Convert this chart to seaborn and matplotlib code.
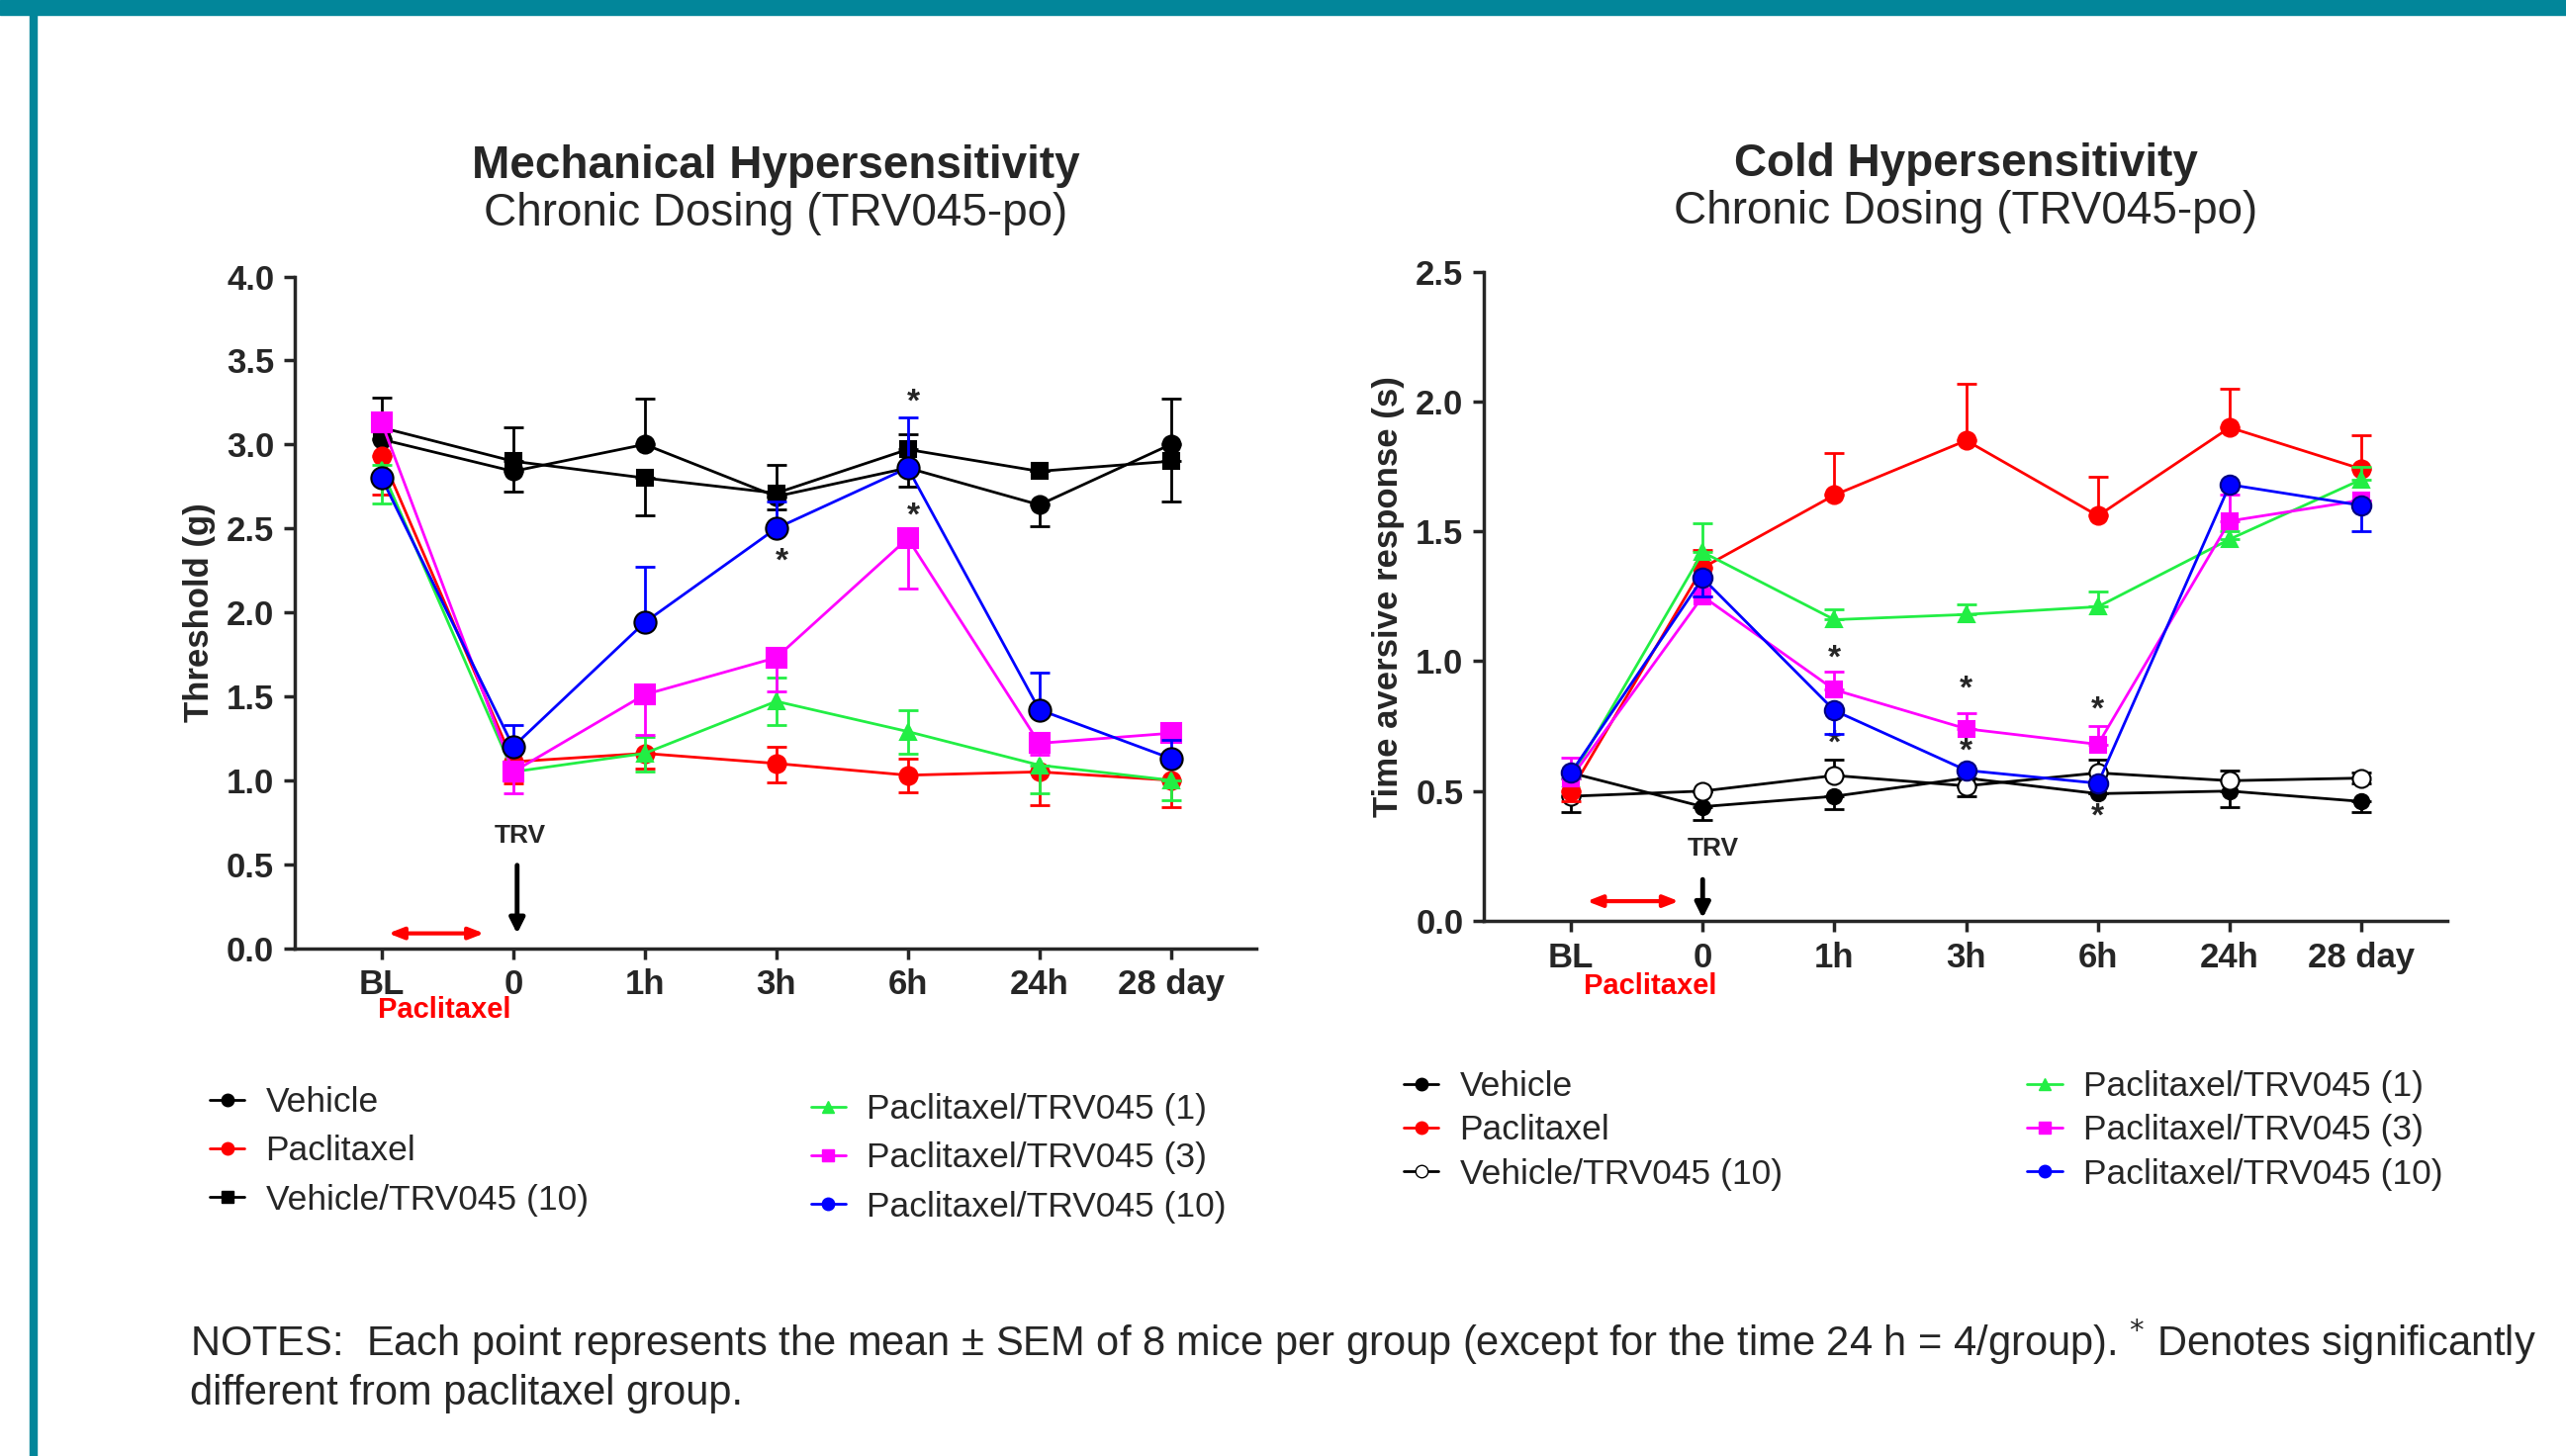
import numpy as np
import matplotlib
matplotlib.use("Agg")
import matplotlib.pyplot as plt
from matplotlib.lines import Line2D
from matplotlib.patches import Rectangle
import seaborn as sns

sns.set_style("ticks")
plt.rcParams['font.family'] = ['Liberation Sans', 'DejaVu Sans']

# ---------------- data ----------------
time_labels = ["BL", "0", "1h", "3h", "6h", "24h", "28 day"]

# Mechanical hypersensitivity (threshold, g)
mech_vehicle = [3.03, 2.84, 3.00, 2.69, 2.86, 2.64, 3.00]
mech_vehicle_up = [0.25, 0.00, 0.27, 0.00, 0.00, 0.00, 0.27]
mech_vehicle_dn = [0.00, 0.12, 0.00, 0.08, 0.11, 0.13, 0.00]
mech_pac = [2.93, 1.11, 1.16, 1.10, 1.03, 1.05, 1.00]
mech_pac_up = [0.00, 0.00, 0.00, 0.10, 0.10, 0.00, 0.00]
mech_pac_dn = [0.23, 0.13, 0.09, 0.11, 0.10, 0.20, 0.16]
mech_vehtrv = [3.10, 2.90, 2.80, 2.71, 2.97, 2.84, 2.90]
mech_vehtrv_up = [0.00, 0.20, 0.00, 0.17, 0.09, 0.00, 0.00]
mech_vehtrv_dn = [0.00, 0.00, 0.22, 0.00, 0.00, 0.00, 0.24]
mech_trv1 = [2.85, 1.05, 1.16, 1.47, 1.29, 1.09, 1.00]
mech_trv1_up = [0.03, 0.00, 0.10, 0.14, 0.13, 0.00, 0.00]
mech_trv1_dn = [0.20, 0.00, 0.11, 0.14, 0.13, 0.17, 0.12]
mech_trv3 = [3.13, 1.05, 1.51, 1.73, 2.44, 1.22, 1.28]
mech_trv3_up = [0.00, 0.00, 0.00, 0.00, 0.00, 0.00, 0.00]
mech_trv3_dn = [0.00, 0.13, 0.24, 0.20, 0.30, 0.07, 0.00]
mech_trv10 = [2.80, 1.20, 1.94, 2.50, 2.86, 1.42, 1.13]
mech_trv10_up = [0.00, 0.13, 0.33, 0.16, 0.30, 0.22, 0.11]
mech_trv10_dn = [0.00, 0.00, 0.00, 0.00, 0.00, 0.00, 0.00]
mech_star_x = [3, 4, 4]
mech_star_y = [2.30, 3.25, 2.57]

# Cold hypersensitivity (time aversive response, s)
cold_vehicle = [0.57, 0.44, 0.48, 0.55, 0.49, 0.50, 0.46]
cold_vehicle_up = [0.00, 0.00, 0.00, 0.00, 0.00, 0.00, 0.00]
cold_vehicle_dn = [0.00, 0.05, 0.05, 0.00, 0.00, 0.06, 0.04]
cold_pac = [0.50, 1.36, 1.64, 1.85, 1.56, 1.90, 1.74]
cold_pac_up = [0.00, 0.07, 0.16, 0.22, 0.15, 0.15, 0.13]
cold_pac_dn = [0.04, 0.00, 0.00, 0.00, 0.00, 0.00, 0.00]
cold_vehtrv = [0.48, 0.50, 0.56, 0.52, 0.57, 0.54, 0.55]
cold_vehtrv_up = [0.00, 0.00, 0.06, 0.00, 0.05, 0.04, 0.02]
cold_vehtrv_dn = [0.06, 0.00, 0.00, 0.04, 0.00, 0.00, 0.02]
cold_trv1 = [0.55, 1.42, 1.16, 1.18, 1.21, 1.47, 1.70]
cold_trv1_up = [0.00, 0.11, 0.04, 0.04, 0.06, 0.03, 0.05]
cold_trv1_dn = [0.00, 0.00, 0.00, 0.00, 0.00, 0.00, 0.00]
cold_trv3 = [0.55, 1.25, 0.89, 0.74, 0.68, 1.54, 1.62]
cold_trv3_up = [0.08, 0.00, 0.07, 0.06, 0.07, 0.10, 0.00]
cold_trv3_dn = [0.00, 0.00, 0.00, 0.00, 0.00, 0.00, 0.00]
cold_trv10 = [0.57, 1.32, 0.81, 0.58, 0.53, 1.68, 1.60]
cold_trv10_up = [0.00, 0.00, 0.00, 0.00, 0.00, 0.00, 0.00]
cold_trv10_dn = [0.00, 0.07, 0.09, 0.00, 0.00, 0.00, 0.10]
cold_star_x = [2, 2, 3, 3, 4, 4]
cold_star_y = [1.01, 0.68, 0.89, 0.65, 0.81, 0.40]

mech_labels = ["Vehicle", "Paclitaxel", "Vehicle/TRV045 (10)",
               "Paclitaxel/TRV045 (1)", "Paclitaxel/TRV045 (3)", "Paclitaxel/TRV045 (10)"]
cold_labels = ["Vehicle", "Paclitaxel", "Vehicle/TRV045 (10)",
               "Paclitaxel/TRV045 (1)", "Paclitaxel/TRV045 (3)", "Paclitaxel/TRV045 (10)"]

RED = "#FF0000"
GREEN = "#22EE44"
MAG = "#FF00FF"
BLUE = "#0000FF"
BLK = "#000000"
TEAL = "#02869A"

fig = plt.figure(figsize=(25.94, 14.72), dpi=100)
fig.patch.set_facecolor("white")

# frame decoration
fig.patches.append(Rectangle((0, 1 - 15 / 1472), 1, 15 / 1472, transform=fig.transFigure,
                             color=TEAL, zorder=0))
fig.patches.append(Rectangle((30 / 2594, 0), 7 / 2594, 1, transform=fig.transFigure,
                             color=TEAL, zorder=0))

axL = fig.add_axes([0.1149, 0.3488, 0.3747, 0.4613])
axR = fig.add_axes([0.5783, 0.3675, 0.3754, 0.4459])

xpos = np.arange(len(time_labels))


def draw_series(ax, vals, up, dn, color, marker, ms, mfc=None, mec=None, z=3):
    if mfc is None:
        mfc = color
    if mec is None:
        mec = color
    ax.errorbar(xpos, vals, yerr=[dn, up], fmt="none", ecolor=color,
                elinewidth=2.0, capsize=7, capthick=2.0, zorder=z - 0.5)
    sns.lineplot(x=xpos, y=vals, ax=ax, color=color, marker=marker,
                 markersize=ms, markerfacecolor=mfc, markeredgecolor=mec, markeredgewidth=1.5,
                 linewidth=2.0, zorder=z, legend=False, estimator=None, sort=False)


# ---- Left panel: mechanical ----
draw_series(axL, mech_vehicle, mech_vehicle_up, mech_vehicle_dn, BLK, "o", 13, z=3)
draw_series(axL, mech_vehtrv, mech_vehtrv_up, mech_vehtrv_dn, BLK, "s", 12, z=3)
draw_series(axL, mech_pac, mech_pac_up, mech_pac_dn, RED, "o", 13, z=4)
draw_series(axL, mech_trv1, mech_trv1_up, mech_trv1_dn, GREEN, "^", 12, z=5)
draw_series(axL, mech_trv3, mech_trv3_up, mech_trv3_dn, MAG, "s", 14, z=6)
draw_series(axL, mech_trv10, mech_trv10_up, mech_trv10_dn, BLUE, "o", 16, mec=BLK, z=7)

# ---- Right panel: cold ----
draw_series(axR, cold_vehicle, cold_vehicle_up, cold_vehicle_dn, BLK, "o", 11, z=3)
draw_series(axR, cold_vehtrv, cold_vehtrv_up, cold_vehtrv_dn, BLK, "o", 13, mfc="white", mec=BLK, z=3)
draw_series(axR, cold_pac, cold_pac_up, cold_pac_dn, RED, "o", 13, z=4)
draw_series(axR, cold_trv1, cold_trv1_up, cold_trv1_dn, GREEN, "^", 11, z=5)
draw_series(axR, cold_trv3, cold_trv3_up, cold_trv3_dn, MAG, "s", 12, z=6)
draw_series(axR, cold_trv10, cold_trv10_up, cold_trv10_dn, BLUE, "o", 14, mec="#000080", z=7)

for ax, ymax, ylab in [(axL, 4.0, "Threshold (g)"), (axR, 2.5, "Time aversive response (s)")]:
    ax.set_xlim(-0.66, 6.65)
    ax.set_ylim(0, ymax)
    ax.set_yticks(np.arange(0, ymax + 0.01, 0.5))
    ax.set_yticklabels([f"{v:.1f}" for v in np.arange(0, ymax + 0.01, 0.5)])
    ax.set_xticks(xpos)
    ax.set_xticklabels(time_labels)
    for lab in ax.get_xticklabels() + ax.get_yticklabels():
        lab.set_fontweight("bold")
        lab.set_fontsize(25)
    ax.tick_params(axis="both", direction="out", length=8, width=2.5, pad=7)
    ax.set_ylabel(ylab, fontsize=25, fontweight="bold", labelpad=8)
    ax.set_xlabel("")
    sns.despine(ax=ax)
    for s in ["left", "bottom"]:
        ax.spines[s].set_linewidth(2.5)

# asterisks
for x, y in zip(mech_star_x, mech_star_y):
    axL.text(x + 0.04, y, "*", fontsize=24, fontweight="bold", ha="center", va="center")
for x, y in zip(cold_star_x, cold_star_y):
    axR.text(x, y, "*", fontsize=24, fontweight="bold", ha="center", va="center")

# titles
axL.text(0.5, 1.164, "Mechanical Hypersensitivity", transform=axL.transAxes, ha="center",
         va="center", fontsize=33, fontweight="bold")
axL.text(0.5, 1.094, "Chronic Dosing (TRV045-po)", transform=axL.transAxes, ha="center",
         va="center", fontsize=33)
axR.text(0.5, 1.165, "Cold Hypersensitivity", transform=axR.transAxes, ha="center",
         va="center", fontsize=33, fontweight="bold")
axR.text(0.5, 1.092, "Chronic Dosing (TRV045-po)", transform=axR.transAxes, ha="center",
         va="center", fontsize=33)

# annotations: TRV arrow (at time 0), paclitaxel red double arrow (BL -> 0)
axL.text(1.05, 0.67, "TRV", fontsize=19, fontweight="bold", ha="center", va="center")
axL.annotate("", xy=(1.03, 0.07), xytext=(1.03, 0.51),
             arrowprops=dict(arrowstyle="-|>,head_width=0.45,head_length=0.9", color=BLK, lw=3.5))
axL.annotate("", xy=(0.03, 0.088), xytext=(0.80, 0.088),
             arrowprops=dict(arrowstyle="<|-|>,head_width=0.35,head_length=0.9", color=RED, lw=3))
axL.text(0.48, -0.37, "Paclitaxel", fontsize=21, fontweight="bold", color=RED, ha="center",
         va="center", clip_on=False)

axR.text(1.08, 0.28, "TRV", fontsize=19, fontweight="bold", ha="center", va="center")
axR.annotate("", xy=(1.0, 0.0), xytext=(1.0, 0.17),
             arrowprops=dict(arrowstyle="-|>,head_width=0.45,head_length=0.9", color=BLK, lw=3.5))
axR.annotate("", xy=(0.10, 0.076), xytext=(0.84, 0.076),
             arrowprops=dict(arrowstyle="<|-|>,head_width=0.35,head_length=0.9", color=RED, lw=3))
axR.text(0.60, -0.25, "Paclitaxel", fontsize=21, fontweight="bold", color=RED, ha="center",
         va="center", clip_on=False)


# legends
def h(color, marker, mfc=None, ms=9):
    return Line2D([0], [0], color=BLK if mfc == "white" else color, marker=marker, markersize=ms,
                  markerfacecolor=mfc if mfc else color, markeredgecolor=BLK if mfc == "white" else color,
                  lw=2)


mech_handles = [h(BLK, "o"), h(RED, "o"), h(BLK, "s"), h(GREEN, "^"), h(MAG, "s"), h(BLUE, "o")]
cold_handles = [h(BLK, "o"), h(RED, "o"), h(BLK, "o", "white"), h(GREEN, "^"), h(MAG, "s"), h(BLUE, "o")]

legkw = dict(frameon=False, fontsize=25.5, handlelength=1.0, handletextpad=0.6, borderpad=0,
             borderaxespad=0, bbox_transform=fig.transFigure, loc="upper left")
l1 = fig.legend(mech_handles[:3], mech_labels[:3], bbox_to_anchor=(0.0817, 0.2541),
                labelspacing=0.46, **legkw)
l2 = fig.legend(mech_handles[3:], mech_labels[3:], bbox_to_anchor=(0.316, 0.2493),
                labelspacing=0.46, **legkw)
l3 = fig.legend(cold_handles[:3], cold_labels[:3], bbox_to_anchor=(0.547, 0.265),
                labelspacing=0.32, **legkw)
l4 = fig.legend(cold_handles[3:], cold_labels[3:], bbox_to_anchor=(0.790, 0.265),
                labelspacing=0.32, **legkw)

# notes
fig.text(192 / 2594, 1 - 1356 / 1472,
         "NOTES:  Each point represents the mean \u00b1 SEM of 8 mice per group (except for the time 24 h = 4/group). "
         "$^{*}$ Denotes significantly",
         fontsize=30, ha="left", va="center")
fig.text(192 / 2594, 1 - 1409 / 1472, "different from paclitaxel group.", fontsize=30,
         ha="left", va="center")

fig.savefig("out.png", dpi=100, facecolor="white")
